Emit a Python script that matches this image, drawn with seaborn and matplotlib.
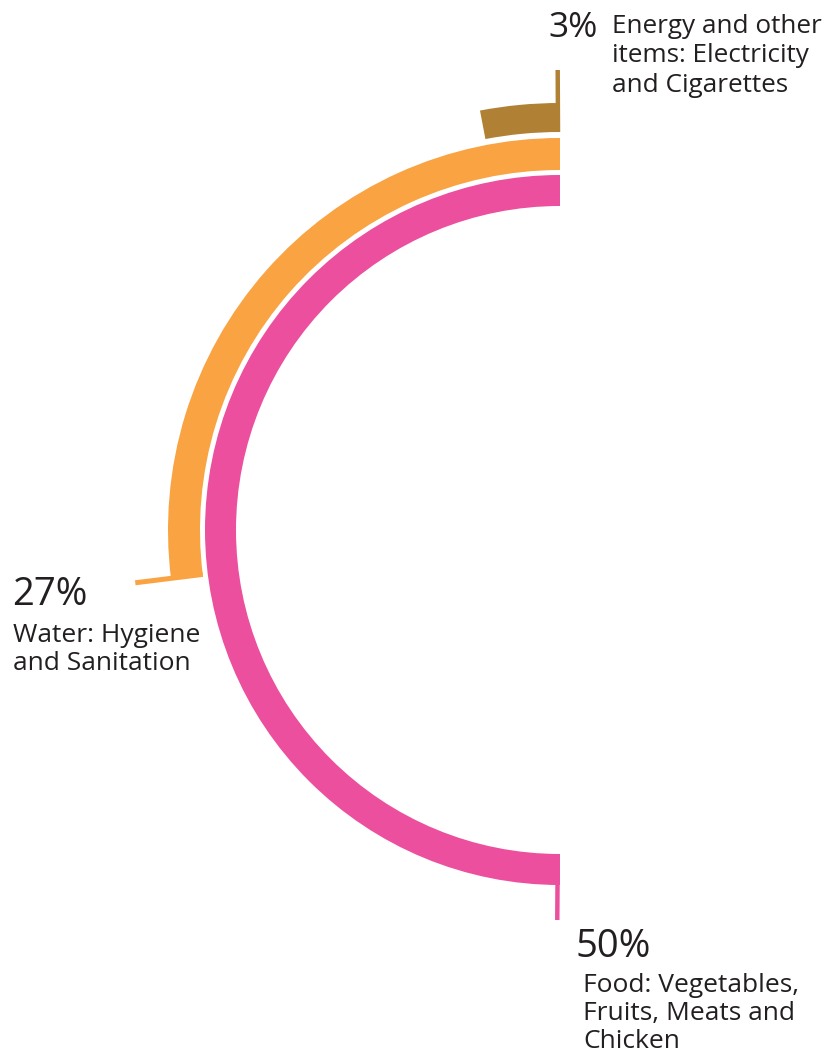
import numpy as np
import matplotlib
matplotlib.use("Agg")
import matplotlib.pyplot as plt
import seaborn as sns

# ---- data ----
categories = ["Food", "Water", "Energy and other items"]
shares = [50, 27, 3]
pct_labels = ["50%", "27%", "3%"]
label_lines = [
    ["Food: Vegetables,", "Fruits, Meats and", "Chicken"],
    ["Water: Hygiene", "and Sanitation"],
    ["Energy and other", "items: Electricity", "and Cigarettes"],
]
colors = ["#EC4F9E", "#F9A342", "#B08035"]

sns.set_theme(style="white")
plt.rcParams['font.family'] = ['Open Sans', 'DejaVu Sans']

W, H = 835, 1057
fig = plt.figure(figsize=(W / 100, H / 100), dpi=100)
fig.patch.set_facecolor("white")

# polar axes centred at pixel (560, 530), radius units = pixels
cx, cy, R = 560, 530, 470
ax = fig.add_axes([(cx - R) / W, (H - cy - R) / H, 2 * R / W, 2 * R / H],
                  projection="polar")
ax.set_theta_zero_location("N")
ax.set_theta_direction(1)
ax.set_ylim(0, R)
ax.set_axis_off()

bottoms = [324, 360, 398]
heights = [31, 32, 29]
for share, b, h, c in zip(shares, bottoms, heights, colors):
    width = share / 100 * 2 * np.pi
    ax.bar(0, h, width=width, bottom=b, align="edge", color=c, linewidth=0)

# leader ticks
tick_specs = [  # (theta, r0, r1, lw)
    (shares[0] / 100 * 2 * np.pi - 0.007, 324, 390, 3.2),
    (shares[1] / 100 * 2 * np.pi - 0.002, 360, 428, 3.6),
    (0.005, 398, 460, 3.2),
]
for (th, r0, r1, lw), c in zip(tick_specs, colors):
    ax.plot([th, th], [r0, r1], color=c, lw=lw, solid_capstyle="butt")

txt = "#231F20"

def put(x, y, s, size):
    fig.text(x / W, 1 - y / H, s, fontsize=size, color=txt, ha="left", va="baseline")

# Food
put(576, 957, pct_labels[0], 27.5)
for i, line in enumerate(label_lines[0]):
    put(583, 992 + i * 28, line, 19)
# Water
put(12, 605, pct_labels[1], 27.5)
for i, line in enumerate(label_lines[1]):
    put(13, 642 + i * 28, line, 19)
# Energy
put(548, 37, pct_labels[2], 25.5)
for i, line in enumerate(label_lines[2]):
    put(612, 33 + i * 29.5, line, 18.8)

fig.savefig("out.png", dpi=100, facecolor="white")
